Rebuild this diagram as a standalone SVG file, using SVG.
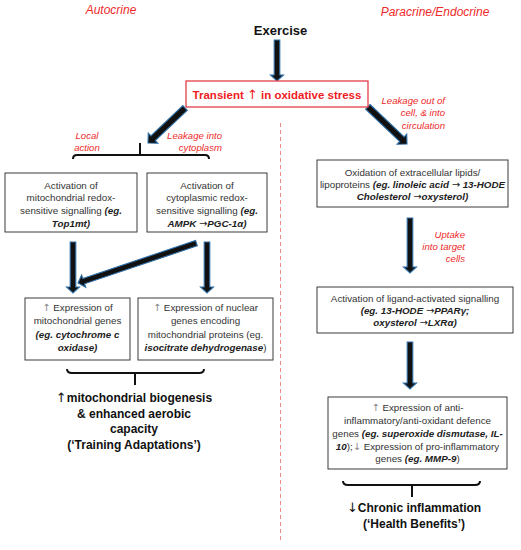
<svg xmlns="http://www.w3.org/2000/svg" width="521" height="550" viewBox="0 0 521 550">
<style>
text{font-family:"Liberation Sans",Arial,sans-serif}
.box{fill:#fff;stroke:#3a3a3a;stroke-width:1}
.rbox{fill:#fff;stroke:#e0303a;stroke-width:1.2}
.t{font-size:9.8px;fill:#333;text-anchor:middle}
.bi{font-weight:bold;font-style:italic;fill:#222}
.ar{font-family:"DejaVu Sans",sans-serif;font-weight:normal;font-style:normal}
.ga{font-family:"DejaVu Sans",sans-serif;fill:#888;font-weight:normal;font-style:normal}
.lab{font-size:9.6px;font-style:italic;fill:#ee2a2a}
.hd{font-size:12px;font-style:italic;fill:#ee2a2a;text-anchor:middle}
.big{font-size:12px;font-weight:bold;fill:#111;text-anchor:middle}
.arr{fill:#111;stroke:#2f6fa7;stroke-width:1.1;stroke-linejoin:miter}
.br{fill:none;stroke:#111;stroke-width:2}
</style>
<rect width="521" height="550" fill="#fff"/>
<text class="hd" x="111" y="14">Autocrine</text>
<text class="hd" x="435" y="16">Paracrine/Endocrine</text>
<line x1="280.5" y1="123" x2="280.5" y2="543" stroke="#ec8a8a" stroke-width="1" stroke-dasharray="4,3"/>
<g id="connectors">
<path class="arr" transform="translate(277,81) rotate(90)" d="M-41,-2.8H-6V-6.5L0,0L-6,6.5V2.8H-41Z"/>
<path class="arr" transform="translate(148,143) rotate(136.6)" d="M-51,-3.2H-7V-7L0,0L-7,7V3.2H-51Z"/>
<path class="arr" transform="translate(407,144) rotate(43.5)" d="M-54,-3.2H-7V-7L0,0L-7,7V3.2H-54Z"/>
<path class="arr" transform="translate(410,273) rotate(90)" d="M-55,-2.8H-6V-6.5L0,0L-6,6.5V2.8H-55Z"/>
<path class="arr" transform="translate(410,389) rotate(90)" d="M-47,-2.8H-6V-6.5L0,0L-6,6.5V2.8H-47Z"/>
<path class="arr" transform="translate(73,293) rotate(90)" d="M-51,-2.8H-6V-6.5L0,0L-6,6.5V2.8H-51Z"/>
<path class="arr" transform="translate(207,293) rotate(90)" d="M-51,-2.8H-6V-6.5L0,0L-6,6.5V2.8H-51Z"/>
<path class="arr" transform="translate(78,283) rotate(161.4)" d="M-125,-2.8H-6V-6.5L0,0L-6,6.5V2.8H-125Z"/>
<path class="br" d="M73,159Q73,155 77,155H205Q209,155 209,159M140,155V143"/>
<path class="br" d="M67,369Q67,373 72,373H199Q204,373 204,369M135,373V385"/>
<path class="br" d="M343,481Q343,485 348,485H475Q480,485 480,481M412,485V497"/>
</g>
<g id="exercise">
<text x="280.5" y="35" font-size="13px" font-weight="bold" fill="#111" text-anchor="middle">Exercise</text>
</g>
<g id="stress">
<rect class="rbox" x="186" y="81" width="182" height="26"/>
<text x="277" y="98.5" font-size="11.5px" font-weight="bold" fill="#ee1c24" text-anchor="middle">Transient <tspan class="ar" font-size="13px">↑</tspan> in oxidative stress</text>
</g>
<g id="labels">
<text class="lab" x="87" y="138.5" text-anchor="middle">Local</text>
<text class="lab" x="87" y="150.5" text-anchor="middle">action</text>
<text class="lab" x="222" y="138.5" text-anchor="end">Leakage into</text>
<text class="lab" x="222" y="150.5" text-anchor="end">cytoplasm</text>
<text class="lab" x="445" y="103.5" text-anchor="end">Leakage out of</text>
<text class="lab" x="445" y="116" text-anchor="end">cell, &amp; into</text>
<text class="lab" x="445" y="128.5" text-anchor="end">circulation</text>
<text class="lab" x="465" y="237.5" text-anchor="end">Uptake</text>
<text class="lab" x="465" y="249.5" text-anchor="end">into target</text>
<text class="lab" x="465" y="261.5" text-anchor="end">cells</text>
</g>
<g id="mito-signal">
<rect class="box" x="5" y="173" width="132" height="59"/>
<text class="t" x="71" y="188.5">Activation of</text>
<text class="t" x="71" y="201">mitochondrial redox-</text>
<text class="t" x="71" y="213.5">sensitive signalling  <tspan class="bi">(eg.</tspan></text>
<text class="t" x="71" y="226.5"><tspan class="bi">Top1mt)</tspan></text>
</g>
<g id="cyto-signal">
<rect class="box" x="147" y="173" width="120" height="59"/>
<text class="t" x="207" y="188.5">Activation of</text>
<text class="t" x="207" y="201">cytoplasmic redox-</text>
<text class="t" x="207" y="213.5">sensitive signalling  <tspan class="bi">(eg.</tspan></text>
<text class="t" x="207" y="226.5"><tspan class="bi">AMPK <tspan class="ar">→</tspan>PGC-1α)</tspan></text>
</g>
<g id="mito-genes">
<rect class="box" x="25" y="298" width="105" height="62"/>
<text class="t" x="77.5" y="310.5"><tspan class="ga">↑</tspan> Expression of</text>
<text class="t" x="77.5" y="324">mitochondrial genes</text>
<text class="t" x="77.5" y="337.5"><tspan class="bi">(eg. cytochrome  c</tspan></text>
<text class="t" x="77.5" y="350.5"><tspan class="bi">oxidase)</tspan></text>
</g>
<g id="nuclear-genes">
<rect class="box" x="138" y="298" width="135" height="62"/>
<text class="t" x="205.5" y="310.5"><tspan class="ga">↑</tspan> Expression of nuclear</text>
<text class="t" x="205.5" y="324">genes encoding</text>
<text class="t" x="205.5" y="337.5">mitochondrial proteins (eg.</text>
<text class="t" x="205.5" y="350.5"><tspan class="bi">isocitrate dehydrogenase</tspan>)</text>
</g>
<g id="training">
<text class="big" x="134" y="401.5"><tspan class="ar" font-size="13px">↑</tspan>mitochondrial biogenesis</text>
<text class="big" x="134" y="417.5">&amp; enhanced aerobic</text>
<text class="big" x="134" y="432.5">capacity</text>
<text class="big" x="134" y="448.5">(‘Training Adaptations’)</text>
</g>
<g id="oxidation">
<rect class="box" x="317" y="160" width="191" height="47"/>
<text class="t" x="412.5" y="175.5">Oxidation of extracellular lipids/</text>
<text class="t" x="412.5" y="187.5">lipoproteins <tspan class="bi">(eg. linoleic acid <tspan class="ar">→</tspan> 13-HODE</tspan></text>
<text class="t" x="412.5" y="199.5"><tspan class="bi">Cholesterol <tspan class="ar">→</tspan>oxysterol)</tspan></text>
</g>
<g id="ligand">
<rect class="box" x="317" y="287" width="196" height="46"/>
<text class="t" x="415" y="301.5">Activation of ligand-activated signalling</text>
<text class="t" x="415" y="313.5"><tspan class="bi">(eg. 13-HODE  <tspan class="ar">→</tspan>PPARγ;</tspan></text>
<text class="t" x="415" y="325.5"><tspan class="bi">oxysterol  <tspan class="ar">→</tspan>LXRα)</tspan></text>
</g>
<g id="anti-inflam">
<rect class="box" x="328" y="397" width="179" height="72"/>
<text class="t" x="417.5" y="410.5"><tspan class="ga">↑</tspan> Expression of anti-</text>
<text class="t" x="417.5" y="424">inflammatory/anti-oxidant defence</text>
<text class="t" x="417.5" y="437">genes <tspan class="bi">(eg. superoxide dismutase, IL-</tspan></text>
<text class="t" x="417.5" y="449.5"><tspan class="bi">10</tspan>);<tspan class="ga">↓</tspan> Expression of pro-inflammatory</text>
<text class="t" x="417.5" y="462">genes <tspan class="bi">(eg. MMP-9</tspan>)</text>
</g>
<g id="health">
<text class="big" x="414" y="511.5"><tspan class="ar" font-size="13px">↓</tspan>Chronic inflammation</text>
<text class="big" x="414" y="527.5">(‘Health Benefits’)</text>
</g>
</svg>
